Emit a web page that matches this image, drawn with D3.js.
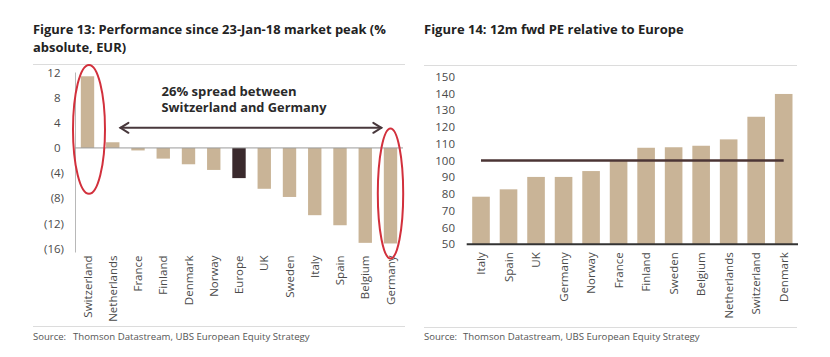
<!DOCTYPE html>
<html>
<head>
<meta charset="utf-8">
<script src="https://cdn.jsdelivr.net/npm/d3@7"></script>
<style>
  html, body { margin: 0; padding: 0; background: #fff; }
  svg { display: block; font-family: "Open Sans", "Noto Sans", sans-serif; }
</style>
</head>
<body>
<svg id="chart" width="830" height="357"></svg>
<script>
// ---------- DATA ----------
const perfCategories = ["Switzerland","Netherlands","France","Finland","Denmark","Norway","Europe","UK","Sweden","Italy","Spain","Belgium","Germany"];
const perfValues = [11.4, 0.9, -0.4, -1.7, -2.6, -3.5, -4.8, -6.5, -7.8, -10.7, -12.3, -15.1, -15.2];
const perfTicks = [12, 8, 4, 0, -4, -8, -12, -16];
const perfHighlight = "Europe";
const perfCircled = ["Switzerland", "Germany"];
const perfTitle = ["Figure 13: Performance since 23-Jan-18 market peak (%", "absolute, EUR)"];
const perfNote = ["26% spread between", "Switzerland and Germany"];

const peCategories = ["Italy","Spain","UK","Germany","Norway","France","Finland","Sweden","Belgium","Netherlands","Switzerland","Denmark"];
const peValues = [78.4, 82.8, 90.2, 90.2, 93.7, 100.3, 107.6, 107.9, 108.8, 112.6, 126.1, 139.7];
const peTicks = [50, 60, 70, 80, 90, 100, 110, 120, 130, 140, 150];
const peReference = 100;
const peTitle = "Figure 14: 12m fwd PE relative to Europe";

const sourceText = "Thomson Datastream, UBS European Equity Strategy";

// ---------- STYLE ----------
const TAN = "#c9b497";
const DARK = "#3a2a2d";
const REFLINE = "#4b3535";
const RED = "#d2303c";
const GRID = "#dcdcdc";
const TICK = "#4a4a4a";

const svg = d3.select("#chart");

function fit(sel, target) {
  const w = sel.node().getComputedTextLength();
  const fs = parseFloat(sel.attr("font-size"));
  sel.attr("font-size", (fs * target / w).toFixed(2));
}
function stretch(sel, target) {
  sel.attr("textLength", target).attr("lengthAdjust", "spacingAndGlyphs");
}

// ========== LEFT CHART ==========
{
  const g = svg.append("g");
  // title
  const t1 = g.append("text").attr("x", 33).attr("y", 34).attr("font-size", 13).attr("font-weight", "bold").attr("fill", "#222").text(perfTitle[0]);
  fit(t1, 353);
  g.append("text").attr("x", 33).attr("y", 52).attr("font-size", t1.attr("font-size")).attr("font-weight", "bold").attr("fill", "#222").text(perfTitle[1]);
  g.append("line").attr("x1", 33).attr("x2", 405).attr("y1", 64.5).attr("y2", 64.5).attr("stroke", GRID).attr("stroke-width", 1);

  const x = d3.scaleBand().domain(perfCategories).range([75, 403]).paddingInner(0.47).paddingOuter(0.23);
  const y = d3.scaleLinear().domain([-16, 12]).range([248.5, 72.5]);

  // y axis
  const yAxis = d3.axisLeft(y).tickValues(perfTicks).tickSize(0).tickPadding(0)
    .tickFormat(d => d < 0 ? `(${-d})` : `${d}`);
  const ya = g.append("g").attr("transform", "translate(64,0)").call(yAxis);
  ya.select(".domain").remove();
  ya.selectAll("text").attr("font-size", 11.5).attr("fill", TICK).attr("font-family", "Open Sans, sans-serif")
    .attr("dx", d => d < 0 ? 0 : -3.5);
  g.append("line").attr("x1", 75.5).attr("x2", 75.5).attr("y1", y(12)).attr("y2", y(-16) + 4).attr("stroke", "#b8b8b8");

  // bars
  g.selectAll("rect.bar").data(perfCategories).join("rect").attr("class", "bar")
    .attr("x", d => x(d)).attr("width", x.bandwidth())
    .attr("y", (d, i) => y(Math.max(0, perfValues[i])))
    .attr("height", (d, i) => Math.abs(y(perfValues[i]) - y(0)))
    .attr("fill", d => d === perfHighlight ? DARK : TAN);

  // zero line
  g.append("line").attr("x1", 75).attr("x2", 403).attr("y1", y(0)).attr("y2", y(0)).attr("stroke", "#9a9a9a").attr("stroke-width", 1);

  // x labels
  const xAxis = d3.axisBottom(x).tickSize(0).tickPadding(0);
  const xa = g.append("g").attr("transform", `translate(0,${y(-16)})`).call(xAxis);
  xa.select(".domain").remove();
  xa.selectAll("text").attr("font-size", 11.5).attr("fill", TICK).attr("font-family", "Open Sans, sans-serif")
    .attr("transform", "rotate(-90)").attr("text-anchor", "end").attr("x", -7).attr("y", 0).attr("dy", "0.35em");

  // annotation arrow
  const ay = y(3.2);
  const ax1 = x("Netherlands") + x.bandwidth() + 1;
  const ax2 = x("Germany") - 2.5;
  const arrow = g.append("g").attr("stroke", "#48383c").attr("stroke-width", 2).attr("fill", "none").attr("stroke-linecap", "round");
  arrow.append("line").attr("x1", ax1).attr("x2", ax2).attr("y1", ay).attr("y2", ay);
  arrow.append("path").attr("d", `M${ax1 + 8},${ay - 5}L${ax1},${ay}L${ax1 + 8},${ay + 5}`);
  arrow.append("path").attr("d", `M${ax2 - 8},${ay - 5}L${ax2},${ay}L${ax2 - 8},${ay + 5}`);

  const n1 = g.append("text").attr("x", 161.5).attr("y", 96).attr("font-size", 11.6).attr("font-weight", "bold").attr("fill", "#2a2a2a").text(perfNote[0]);
  stretch(n1, 135);
  const n2 = g.append("text").attr("x", 161.5).attr("y", 112).attr("font-size", 11.6).attr("font-weight", "bold").attr("fill", "#2a2a2a").text(perfNote[1]);
  stretch(n2, 165);

  // red ellipses
  const ellipseSpan = { "Switzerland": [13.2, -7.3, 16], "Germany": [3.1, -17.6, 12.7] };
  perfCircled.forEach(c => {
    const [top, bot, rx] = ellipseSpan[c];
    g.append("ellipse")
      .attr("cx", x(c) + x.bandwidth() / 2 + (c === "Switzerland" ? 1.5 : 0))
      .attr("cy", (y(top) + y(bot)) / 2)
      .attr("rx", rx).attr("ry", (y(bot) - y(top)) / 2)
      .attr("fill", "none").attr("stroke", RED).attr("stroke-width", 2);
  });

  // source
  g.append("line").attr("x1", 33).attr("x2", 405).attr("y1", 326.5).attr("y2", 326.5).attr("stroke", GRID);
  g.append("text").attr("x", 33).attr("y", 340).attr("font-size", 9.5).attr("fill", "#555").text("Source:");
  const s1 = g.append("text").attr("x", 73).attr("y", 340).attr("font-size", 9.5).attr("fill", "#555").text(sourceText);
  fit(s1, 237);
}

// ========== RIGHT CHART ==========
{
  const g = svg.append("g");
  const t = g.append("text").attr("x", 424).attr("y", 34).attr("font-size", 13).attr("font-weight", "bold").attr("fill", "#222").text(peTitle);
  fit(t, 260);
  g.append("line").attr("x1", 424).attr("x2", 797).attr("y1", 65.5).attr("y2", 65.5).attr("stroke", GRID);

  const x = d3.scaleBand().domain(peCategories).range([466.7, 798]).paddingInner(0.36).paddingOuter(0.2);
  const y = d3.scaleLinear().domain([50, 150]).range([244.3, 76.7]);

  const yAxis = d3.axisLeft(y).tickValues(peTicks).tickSize(0).tickPadding(0);
  const ya = g.append("g").attr("transform", "translate(455,0)").call(yAxis);
  ya.select(".domain").remove();
  ya.selectAll("text").attr("font-size", 11.5).attr("fill", TICK).attr("font-family", "Open Sans, sans-serif");

  g.selectAll("rect.bar").data(peCategories).join("rect").attr("class", "bar")
    .attr("x", d => x(d)).attr("width", x.bandwidth())
    .attr("y", (d, i) => y(peValues[i]))
    .attr("height", (d, i) => y(50) - y(peValues[i]))
    .attr("fill", TAN);

  // baseline
  g.append("line").attr("x1", 466.7).attr("x2", 798).attr("y1", y(50)).attr("y2", y(50)).attr("stroke", "#333").attr("stroke-width", 2);

  // reference line
  const first = peCategories[0], last = peCategories[peCategories.length - 1];
  g.append("line")
    .attr("x1", x(first) + x.bandwidth() / 2).attr("x2", x(last) + x.bandwidth() / 2)
    .attr("y1", y(peReference)).attr("y2", y(peReference))
    .attr("stroke", REFLINE).attr("stroke-width", 2.5);

  const xAxis = d3.axisBottom(x).tickSize(0).tickPadding(0);
  const xa = g.append("g").attr("transform", `translate(0,${y(50)})`).call(xAxis);
  xa.select(".domain").remove();
  xa.selectAll("text").attr("font-size", 11.5).attr("fill", TICK).attr("font-family", "Open Sans, sans-serif")
    .attr("transform", "rotate(-90)").attr("text-anchor", "end").attr("x", -8).attr("y", 0).attr("dy", "0.35em");

  g.append("line").attr("x1", 424).attr("x2", 797).attr("y1", 327.5).attr("y2", 327.5).attr("stroke", GRID);
  g.append("text").attr("x", 424).attr("y", 340).attr("font-size", 9.5).attr("fill", "#555").text("Source:");
  const s = g.append("text").attr("x", 463).attr("y", 340).attr("font-size", 9.5).attr("fill", "#555").text(sourceText);
  fit(s, 237);
}
</script>
</body>
</html>
